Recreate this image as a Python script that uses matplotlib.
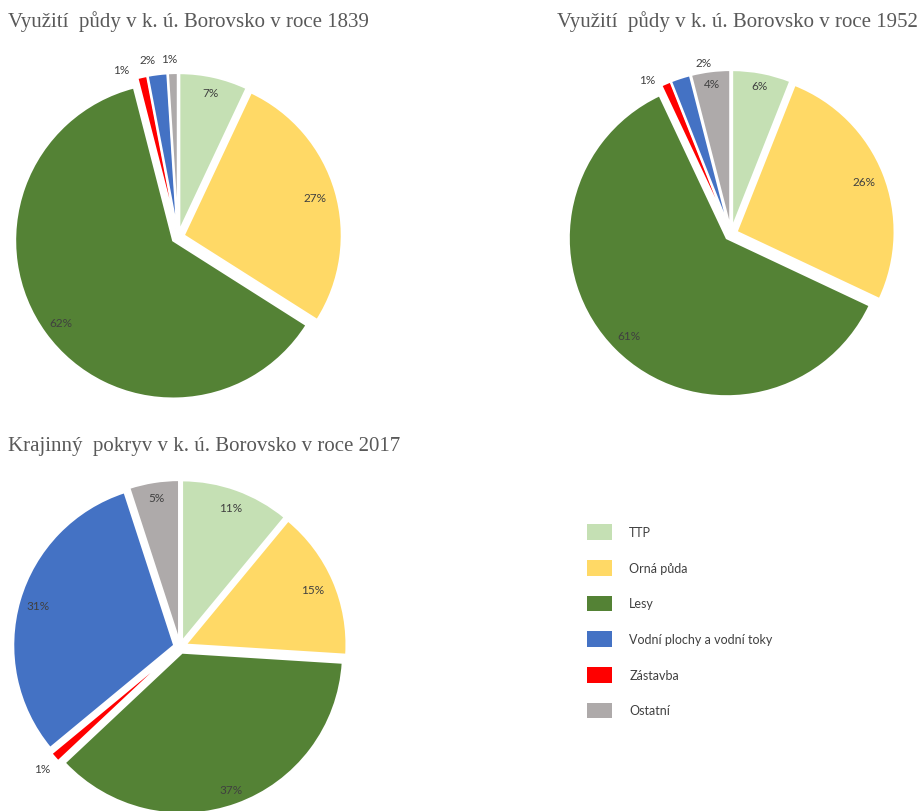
"""
Využití půdy / krajinný pokryv v k. ú. Borovsko – tři výsečové grafy.
"""

import matplotlib

matplotlib.use("Agg")
import matplotlib.pyplot as plt
import numpy as np
from matplotlib.patches import Patch

# kategorie v pořadí legendy
kategorie = ["TTP", "Orná půda", "Lesy", "Vodní plochy a vodní toky", "Zástavba", "Ostatní"]
barvy = {
    "TTP": "#c5e0b4",
    "Orná půda": "#ffd966",
    "Lesy": "#548235",
    "Vodní plochy a vodní toky": "#4472c4",
    "Zástavba": "#ff0000",
    "Ostatní": "#aeaaaa",
}

# pořadí výsečí ve směru hodinových ručiček od 12 hodin
poradi_vyseci = ["TTP", "Orná půda", "Lesy", "Zástavba", "Vodní plochy a vodní toky", "Ostatní"]
hodnoty_1839 = [7, 27, 62, 1, 2, 1]
hodnoty_1952 = [6, 26, 61, 1, 2, 4]
hodnoty_2017 = [11, 15, 37, 1, 31, 5]

titulky = [
    "Využití  půdy v k. ú. Borovsko v roce 1839",
    "Využití  půdy v k. ú. Borovsko v roce 1952",
    "Krajinný  pokryv v k. ú. Borovsko v roce 2017",
]

W, H = 917, 812
fig = plt.figure(figsize=(W / 100, H / 100), dpi=100)
ax = fig.add_axes([0, 0, 1, 1])

SEDA = "#595959"
TEXT = "#404040"
ODSUN = 6  # vysunutí výsečí (v pixelech, osy jsou v pixelech)


def vysec(hodnoty, stred, polomer, vzdal_popisku, posun_uhlu):
    barvy_vyseci = [barvy[k] for k in poradi_vyseci]
    wedges, _, popisky = ax.pie(
        hodnoty,
        colors=barvy_vyseci,
        startangle=90,
        counterclock=False,
        center=stred,
        radius=polomer,
        explode=[ODSUN] * len(hodnoty),
        autopct="%1.0f%%",
        wedgeprops=dict(edgecolor="white", linewidth=1.5),
        textprops=dict(fontsize=8.5, color=TEXT, family=["Lato", "DejaVu Sans"]),
        frame=True,
    )
    # popisky jako v Excelu – malé výseče mají popisek venku
    for w, t, d, s in zip(wedges, popisky, vzdal_popisku, posun_uhlu):
        uhel = np.deg2rad((w.theta1 + w.theta2) / 2 - s)
        t.set_position((stred[0] + d * polomer * np.cos(uhel),
                        stred[1] + d * polomer * np.sin(uhel)))
    return wedges


vysec(hodnoty_1839, (178, H - 238), 158,
      [0.94, 0.905, 0.92, 1.12, 1.14, 1.13], [0, 0, 0, -6, -2.5, -1])
vysec(hodnoty_1952, (731, H - 235), 158,
      [0.96, 0.905, 0.91, 1.11, 1.1, 0.96], [0, 0, 0, -5, 9, 0])
vysec(hodnoty_2017, (180, H - 648), 161,
      [0.92, 0.9, 0.94, 1.14, 0.92, 0.94], [0, 0, 0, 0, 0, 0])

ax.set_xlim(0, W)
ax.set_ylim(0, H)
ax.set_aspect("equal")
ax.axis("off")

serif = ["Liberation Serif", "DejaVu Serif"]
ax.text(8, H - 22, titulky[0], fontsize=15, color=SEDA, family=serif, va="center")
ax.text(557, H - 22, titulky[1], fontsize=15, color=SEDA, family=serif, va="center")
ax.text(8, H - 447, titulky[2], fontsize=15, color=SEDA, family=serif, va="center")

uchyty = [Patch(facecolor=barvy[k], edgecolor="none") for k in kategorie]
fig.legend(
    uchyty,
    kategorie,
    loc="upper left",
    bbox_to_anchor=(576 / W, 1 - 514 / H),
    frameon=False,
    prop=dict(family=["Lato", "DejaVu Sans"], size=9),
    handlelength=1.95,
    handleheight=1.55,
    labelspacing=1.6,
    handletextpad=1.4,
    labelcolor=TEXT,
)

fig.savefig("out.png", dpi=100)
